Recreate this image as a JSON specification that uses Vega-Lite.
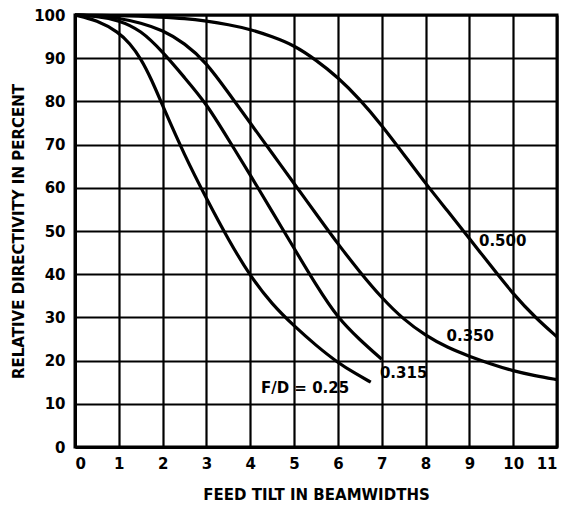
{
  "$schema": "https://vega.github.io/schema/vega-lite/v6.json",
  "autosize": {"type": "none"},
  "width": 482,
  "height": 432,
  "padding": {"left": 75, "top": 15, "right": 10, "bottom": 64},
  "background": "white",
  "config": {
    "view": {"stroke": "black", "strokeWidth": 3},
    "axis": {
      "grid": true, "gridColor": "black", "gridWidth": 2.2, "gridOpacity": 1,
      "domain": true, "domainColor": "black", "domainWidth": 3,
      "ticks": false,
      "labelFont": "DejaVu Sans", "labelFontWeight": "bold", "labelFontSize": 15, "labelColor": "black",
      "titleFont": "DejaVu Sans", "titleFontWeight": "bold", "titleFontSize": 15, "titleColor": "black"
    }
  },
  "datasets": {
    "curves": [
      {"fd": "0.25", "x": 0, "y": 100}, {"fd": "0.25", "x": 0.5, "y": 98.8}, {"fd": "0.25", "x": 1, "y": 96}, {"fd": "0.25", "x": 1.25, "y": 93.4}, {"fd": "0.25", "x": 1.5, "y": 90}, {"fd": "0.25", "x": 1.75, "y": 85}, {"fd": "0.25", "x": 2, "y": 79}, {"fd": "0.25", "x": 2.5, "y": 67.5}, {"fd": "0.25", "x": 3, "y": 57.5}, {"fd": "0.25", "x": 3.5, "y": 48}, {"fd": "0.25", "x": 4, "y": 39.5}, {"fd": "0.25", "x": 4.5, "y": 33}, {"fd": "0.25", "x": 5, "y": 28}, {"fd": "0.25", "x": 5.5, "y": 23.5}, {"fd": "0.25", "x": 6, "y": 19.5}, {"fd": "0.25", "x": 6.4, "y": 17}, {"fd": "0.25", "x": 6.75, "y": 15},
      {"fd": "0.315", "x": 0, "y": 100}, {"fd": "0.315", "x": 0.5, "y": 99.7}, {"fd": "0.315", "x": 1, "y": 98.8}, {"fd": "0.315", "x": 1.5, "y": 96.5}, {"fd": "0.315", "x": 2, "y": 91.5}, {"fd": "0.315", "x": 2.5, "y": 85.5}, {"fd": "0.315", "x": 3, "y": 79.5}, {"fd": "0.315", "x": 3.5, "y": 71.2}, {"fd": "0.315", "x": 4, "y": 63}, {"fd": "0.315", "x": 4.5, "y": 54.5}, {"fd": "0.315", "x": 5, "y": 46}, {"fd": "0.315", "x": 5.5, "y": 37.5}, {"fd": "0.315", "x": 6, "y": 29.8}, {"fd": "0.315", "x": 6.5, "y": 24.8}, {"fd": "0.315", "x": 7, "y": 20.3},
      {"fd": "0.350", "x": 0, "y": 100}, {"fd": "0.350", "x": 0.5, "y": 99.8}, {"fd": "0.350", "x": 1, "y": 99.3}, {"fd": "0.350", "x": 1.5, "y": 98.2}, {"fd": "0.350", "x": 2, "y": 96.5}, {"fd": "0.350", "x": 2.5, "y": 93.5}, {"fd": "0.350", "x": 3, "y": 89}, {"fd": "0.350", "x": 3.5, "y": 82}, {"fd": "0.350", "x": 4, "y": 75}, {"fd": "0.350", "x": 4.5, "y": 68}, {"fd": "0.350", "x": 5, "y": 61}, {"fd": "0.350", "x": 5.5, "y": 54}, {"fd": "0.350", "x": 6, "y": 47}, {"fd": "0.350", "x": 6.5, "y": 40.5}, {"fd": "0.350", "x": 7, "y": 34.5}, {"fd": "0.350", "x": 7.5, "y": 29.5}, {"fd": "0.350", "x": 8, "y": 25.8}, {"fd": "0.350", "x": 8.5, "y": 23}, {"fd": "0.350", "x": 9, "y": 21}, {"fd": "0.350", "x": 9.5, "y": 19.2}, {"fd": "0.350", "x": 10, "y": 17.6}, {"fd": "0.350", "x": 10.5, "y": 16.5}, {"fd": "0.350", "x": 11, "y": 15.6},
      {"fd": "0.500", "x": 0, "y": 100}, {"fd": "0.500", "x": 1, "y": 99.9}, {"fd": "0.500", "x": 2, "y": 99.5}, {"fd": "0.500", "x": 2.5, "y": 99.2}, {"fd": "0.500", "x": 3, "y": 98.6}, {"fd": "0.500", "x": 3.5, "y": 97.8}, {"fd": "0.500", "x": 4, "y": 96.7}, {"fd": "0.500", "x": 4.5, "y": 95}, {"fd": "0.500", "x": 5, "y": 93}, {"fd": "0.500", "x": 5.5, "y": 89.6}, {"fd": "0.500", "x": 6, "y": 85.6}, {"fd": "0.500", "x": 6.5, "y": 80.5}, {"fd": "0.500", "x": 7, "y": 74.5}, {"fd": "0.500", "x": 7.5, "y": 67.8}, {"fd": "0.500", "x": 8, "y": 61}, {"fd": "0.500", "x": 8.5, "y": 54.7}, {"fd": "0.500", "x": 9, "y": 48.3}, {"fd": "0.500", "x": 9.5, "y": 41.8}, {"fd": "0.500", "x": 10, "y": 35.4}, {"fd": "0.500", "x": 10.5, "y": 30}, {"fd": "0.500", "x": 11, "y": 25.5}
    ],
    "labels": [
      {"text": "0.500", "x": 9.76, "y": 47.7},
      {"text": "0.350", "x": 9.02, "y": 25.6},
      {"text": "0.315", "x": 7.5, "y": 17.2},
      {"text": "F/D = 0.25", "x": 5.25, "y": 13.7}
    ]
  },
  "layer": [
    {
      "data": {"name": "curves"},
      "mark": {"type": "line", "interpolate": "basis", "color": "black", "strokeWidth": 3.2},
      "encoding": {
        "x": {"field": "x", "type": "quantitative", "scale": {"domain": [0, 11], "nice": false}, "axis": {"values": [0,1,2,3,4,5,6,7,8,9,10,11], "title": "FEED TILT IN BEAMWIDTHS", "titlePadding": 16, "labelPadding": 9}},
        "y": {"field": "y", "type": "quantitative", "scale": {"domain": [0, 100], "nice": false}, "axis": {"values": [0,10,20,30,40,50,60,70,80,90,100], "title": "RELATIVE DIRECTIVITY IN PERCENT", "titlePadding": 7, "labelPadding": 10}},
        "detail": {"field": "fd", "type": "nominal"}
      }
    },
    {
      "data": {"name": "labels"},
      "mark": {"type": "text", "font": "DejaVu Sans", "fontWeight": "bold", "fontSize": 15, "color": "black", "align": "center", "baseline": "middle"},
      "encoding": {
        "x": {"field": "x", "type": "quantitative"},
        "y": {"field": "y", "type": "quantitative"},
        "text": {"field": "text"}
      }
    }
  ]
}
